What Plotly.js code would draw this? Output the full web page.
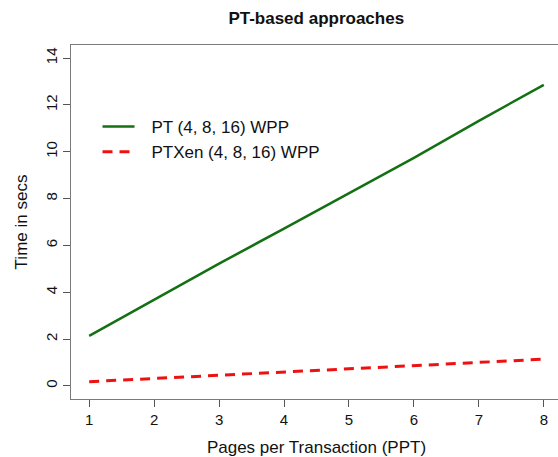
<!DOCTYPE html>
<html>
<head>
<meta charset="utf-8">
<script src="https://cdn.plot.ly/plotly-3.0.1.min.js"></script>
<style>
  html, body { margin: 0; padding: 0; overflow: hidden; background: #fff; }
  #chart { width: 575px; height: 457px; }
</style>
</head>
<body>
<div id="chart"></div>
<script>
// Pages per transaction
var ppt = [1, 2, 3, 4, 5, 6, 7, 8];
// Execution time in seconds for each approach
var ptWpp = [2.14, 3.68, 5.22, 6.72, 8.22, 9.74, 11.32, 12.86];
var ptxenWpp = [0.18, 0.32, 0.46, 0.59, 0.73, 0.87, 1.00, 1.14];
var seriesNames = ['PT (4, 8, 16) WPP', 'PTXen (4, 8, 16) WPP'];
var yTicks = [0, 2, 4, 6, 8, 10, 12, 14];

var font = 'Liberation Sans, Arial, Helvetica, sans-serif';
// small gap between the legend key and its label
var keyGap = '\u2002\u2009';

var traces = [
  {
    x: ppt, y: ptWpp, name: keyGap + seriesNames[0], type: 'scatter', mode: 'lines',
    line: { color: '#137013', width: 2.5 }
  },
  {
    x: ppt, y: ptxenWpp, name: keyGap + seriesNames[1], type: 'scatter', mode: 'lines',
    line: { color: '#ee1111', width: 3, dash: '10px,7px' }
  }
];

var axisCommon = {
  showgrid: false, zeroline: false,
  showline: true, mirror: true, linecolor: '#7a7a7a', linewidth: 1.3,
  ticks: 'outside', ticklen: 7, tickcolor: '#555', tickwidth: 1,
  tickfont: { family: font, size: 15, color: '#111' }
};

var layout = {
  width: 575, height: 457,
  margin: { l: 71, r: 13, t: 45, b: 58 },
  paper_bgcolor: '#fff', plot_bgcolor: '#fff',
  title: {
    text: '<b>PT-based approaches</b>',
    font: { family: font, size: 17, color: '#111' },
    x: 0.55, xanchor: 'center', y: 0.96, yanchor: 'middle'
  },
  xaxis: Object.assign({}, axisCommon, {
    range: [0.72, 8.28], tickvals: ppt,
    title: { text: 'Pages per Transaction (PPT)', font: { family: font, size: 17, color: '#111' }, standoff: 15 }
  }),
  yaxis: Object.assign({}, axisCommon, {
    range: [-0.56, 14.56], tickvals: yTicks, tickangle: -90,
    title: { text: 'Time in secs', font: { family: font, size: 17, color: '#111' }, standoff: 10 }
  }),
  showlegend: true,
  legend: {
    x: 0.054, y: 0.819, xanchor: 'left', yanchor: 'top',
    bgcolor: 'rgba(0,0,0,0)', borderwidth: 0,
    font: { family: font, size: 17, color: '#111' },
    itemwidth: 32, tracegroupgap: 0
  }
};

Plotly.newPlot('chart', traces, layout, { displayModeBar: false, staticPlot: true });
</script>
</body>
</html>
